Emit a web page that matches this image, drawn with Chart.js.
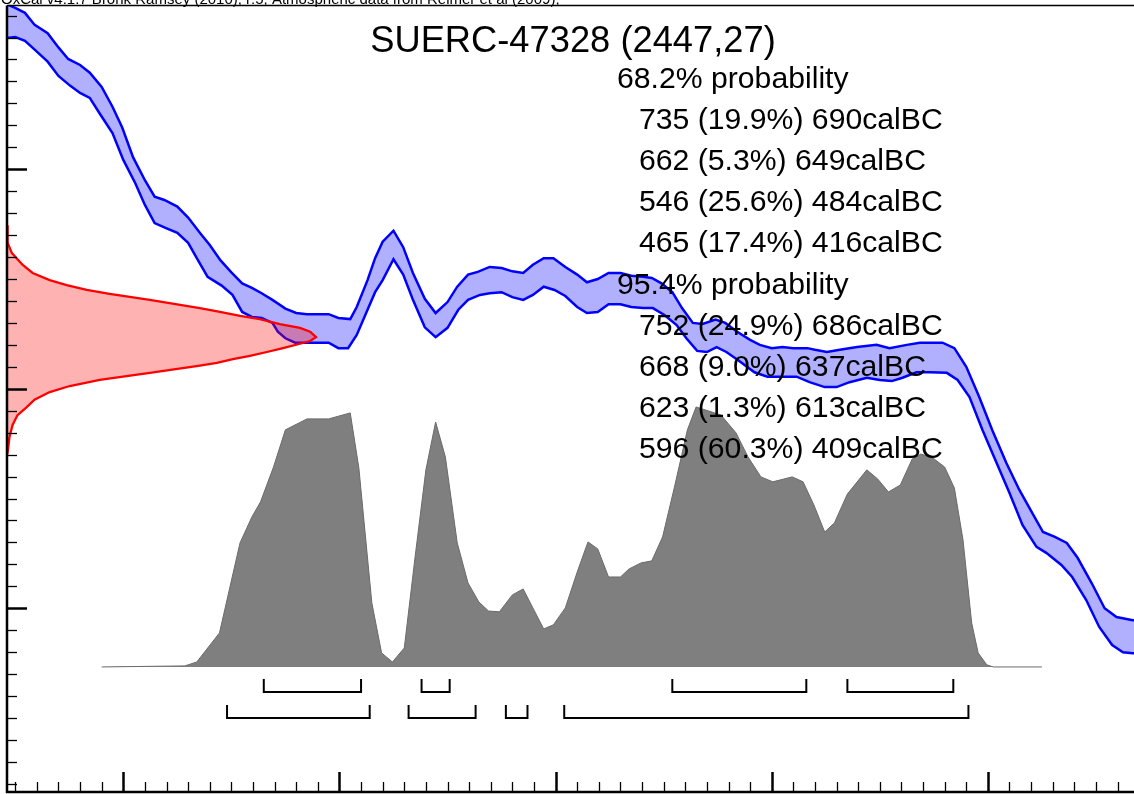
<!DOCTYPE html>
<html><head><meta charset="utf-8">
<script src="https://cdn.jsdelivr.net/npm/chart.js@4.4.1/dist/chart.umd.min.js"></script>
<style>html,body{margin:0;padding:0;background:#fff;overflow:hidden}</style>
</head><body><canvas id="c" width="1134" height="794"></canvas>
<script>
// ---- Calibration curve (IntCal band), calendar year (negative = BC) vs radiocarbon BP ----
const curveUpperYears = [-856,-850,-845.5,-841,-835,-830,-825.5,-820,-815.5,-810,-805,-800.5,-795.5,-790,-785.5,-781,-775,-770,-764.5,-760,-755,-750,-745,-740.5,-736,-731,-725,-720,-715,-705,-700.5,-695,-692,-687,-683.5,-680,-675,-670.5,-666,-660.5,-655.5,-650,-645.5,-640.5,-636,-630.5,-625,-620,-615,-610.5,-605.5,-601,-595.5,-590,-585.5,-580.5,-575.5,-570,-565,-559.5,-555.5,-551,-546,-541.5,-536.5,-532,-526,-521.5,-516,-510,-505.5,-500,-495,-490,-483.5,-480,-474.5,-468.5,-460.5,-451.5,-445.5,-437.5,-431.5,-425.5,-421,-415.5,-410,-404,-398,-391.5,-385.5,-379.5,-374.5,-369,-363.5,-358.5,-352,-346,-340.5,-333,-328];
const curveUpperBP = [2752,2747,2742.5,2731.5,2724,2711,2700.5,2695,2688,2675,2657,2638,2611,2590,2575,2572,2566,2556,2542,2531,2517,2506,2496,2492,2487,2481,2473,2469,2468,2468,2464.5,2463.5,2474.5,2499,2519,2534,2544,2529,2505.5,2482,2469,2479,2493,2504,2506.5,2511,2510,2507,2505.5,2513,2519,2519,2511,2504,2497,2500,2505.5,2505.5,2503,2502,2501,2496,2488,2473.5,2460,2459,2463,2460,2452,2444.5,2440,2437,2438,2437,2437,2435.5,2433.5,2435.5,2438,2440,2437,2440,2442,2442,2442,2437,2420,2392.5,2362.5,2332.5,2308,2287,2269.5,2265,2259.5,2246,2223,2200,2192,2189,2189];
const curveLowerYears = [-856,-850,-845.5,-841,-835,-830,-824.5,-820,-815.5,-811,-805,-800,-794.5,-790,-785.5,-780.5,-775,-770,-766,-761,-754.5,-749.5,-745,-740.5,-736,-731,-728.5,-725,-720.5,-715,-705,-700.5,-696,-692,-687,-683.5,-680,-675,-670.5,-666,-660.5,-655.5,-650,-645,-640.5,-635,-630.5,-625,-620,-615,-610.5,-605.5,-600.5,-595.5,-590,-585.5,-580.5,-575.5,-570,-565,-559.5,-555,-549.5,-544,-539.5,-534.5,-530,-525.5,-521,-515.5,-508,-502,-495,-488.5,-482.5,-475.5,-470,-464,-456,-450,-444.5,-439.5,-433,-427,-419,-414,-408.5,-402.5,-396,-390,-384,-377.5,-373,-366,-361,-354.5,-348.5,-342.5,-337.5,-333,-328];
const curveLowerBP = [2719,2720.5,2717,2709,2698,2685,2676,2669.5,2665,2651,2633,2608.5,2587.5,2567.5,2551,2546.5,2542,2533,2519,2502,2494,2485.5,2470,2465.5,2464.5,2460,2452,2446,2442,2442,2442,2437,2437,2449,2472,2488,2499,2518,2504,2481,2456,2447,2455.5,2472,2481,2485.5,2487,2488,2483.5,2481,2485.5,2493,2490,2484.5,2474.5,2469,2470,2477,2477,2474.5,2473.5,2473.5,2467,2458,2446,2434.5,2433.5,2438,2433.5,2426,2415,2411,2411,2411,2406,2401.5,2401.5,2406,2410,2408,2407,2410,2415,2415,2414.5,2408,2392.5,2362.5,2332.5,2305,2276,2256,2250.5,2239.5,2228.5,2207.5,2183,2166.5,2160,2159,2159];

// ---- Radiocarbon measurement distribution (2447 ± 27 BP), relative probability ----
const measBP   = [2549,2533,2524,2519,2513,2505.5,2499,2494.5,2490,2486.5,2481,2473.5,2470,2466.5,2463.5,2459,2455.5,2452,2447,2443.5,2441,2437,2433.5,2430,2427,2423.5,2421,2414.5,2408,2402.5,2397,2390,2383,2376,2367,2356,2342,2340];
const measProb = [0,0.002,0.015,0.031,0.05,0.083,0.138,0.193,0.258,0.332,0.462,0.624,0.689,0.754,0.818,0.883,0.948,0.981,1,0.981,0.948,0.893,0.841,0.786,0.731,0.679,0.624,0.462,0.3,0.203,0.138,0.089,0.063,0.034,0.018,0.008,0.002,0];

// ---- Calibrated date distribution, calendar year vs relative probability ----
const calYears = [-810,-771.5,-766,-755.5,-746,-740.5,-736.5,-730.5,-725,-715,-705,-695,-691,-685,-680.5,-675.5,-670,-665,-660,-655.5,-651,-645.5,-640.5,-635.5,-631,-626,-620,-615,-605.5,-601,-595.5,-590,-585,-580.5,-575.5,-570,-566,-560.5,-555.5,-550.5,-545,-539,-535,-523.5,-516.5,-511,-505,-499.5,-490.5,-485.5,-480.5,-475.5,-471,-465,-456,-451,-446,-440.5,-435,-431,-425.5,-420,-415.5,-411.5,-407.5,-404.5,-400.5,-397.5,-375];
const calProb  = [0,0.004,0.019,0.131,0.477,0.577,0.635,0.769,0.912,0.954,0.954,0.977,0.765,0.246,0.054,0.019,0.073,0.423,0.758,0.942,0.808,0.477,0.323,0.25,0.215,0.212,0.277,0.3,0.146,0.162,0.227,0.365,0.481,0.454,0.346,0.346,0.377,0.4,0.408,0.5,0.692,0.912,1.0,0.969,0.9,0.808,0.731,0.712,0.731,0.712,0.623,0.519,0.554,0.665,0.758,0.723,0.673,0.7,0.8,0.819,0.804,0.769,0.688,0.488,0.169,0.054,0.008,0,0];

// ---- Highest probability ranges (cal BC) ----
const range68From = [735, 662, 546, 465];
const range68To   = [690, 649, 484, 416];
const range68Pct  = ['19.9%', '5.3%', '25.6%', '17.4%'];
const range95From = [752, 668, 623, 596];
const range95To   = [686, 637, 613, 409];
const range95Pct  = ['24.9%', '9.0%', '1.3%', '60.3%'];

// ---- Texts and tick values ----
const headerText = 'OxCal v4.1.7 Bronk Ramsey (2010); r:5; Atmospheric data from Reimer et al (2009);';
const titleText = 'SUERC-47328 (2447,27)';
const xMinorStep = 10, xMajorStep = 100;
const yMinorStep = 20, yMajorStep = 200;

const FONT = "'Liberation Sans', Arial, Helvetica, sans-serif";

function pts(xs, ys) { return xs.map((x, i) => ({x: x, y: ys[i]})); }

const bracketLevels = {p68: {bar: -0.096, tip: -0.046}, p95: {bar: -0.196, tip: -0.146}};
function bracketSets(from, to, lvl) {
  return from.map((f, i) => ({
    data: [{x: -f, y: lvl.tip}, {x: -f, y: lvl.bar}, {x: -to[i], y: lvl.bar}, {x: -to[i], y: lvl.tip}],
    xAxisID: 'x', yAxisID: 'yp', borderColor: '#000', borderWidth: 2, fill: false,
    pointRadius: 0, order: 0, borderJoinStyle: 'miter', borderCapStyle: 'butt'
  }));
}

const datasets = [
  ...bracketSets(range68From, range68To, bracketLevels.p68),
  ...bracketSets(range95From, range95To, bracketLevels.p95),
  {
    data: measBP.map((b, i) => ({x: measProb[i], y: b})),
    indexAxis: 'y', xAxisID: 'xp', yAxisID: 'y',
    borderColor: '#ff0000', borderWidth: 2.3, backgroundColor: 'rgba(255,0,0,0.3)',
    fill: 'origin', pointRadius: 0, order: 1
  },
  {
    data: pts(curveUpperYears, curveUpperBP), xAxisID: 'x', yAxisID: 'y',
    borderColor: '#0000ff', borderWidth: 2.5, backgroundColor: 'rgba(0,0,255,0.31)',
    fill: '+1', pointRadius: 0, order: 3
  },
  {
    data: pts(curveLowerYears, curveLowerBP), xAxisID: 'x', yAxisID: 'y',
    borderColor: '#0000ff', borderWidth: 2.5, fill: false, pointRadius: 0, order: 2
  },
  {
    data: pts(calYears, calProb), xAxisID: 'x', yAxisID: 'yp',
    borderColor: '#6a6a6a', borderWidth: 1, backgroundColor: '#7f7f7f',
    fill: 'origin', pointRadius: 0, order: 5
  }
];

const frame = {
  id: 'frame',
  afterDatasetsDraw(chart) {
    const ctx = chart.ctx, a = chart.chartArea;
    const xs = chart.scales.x, ys = chart.scales.y;
    ctx.save();
    ctx.strokeStyle = '#000';
    ctx.lineWidth = 1.5;
    ctx.beginPath(); ctx.moveTo(a.left, a.top); ctx.lineTo(chart.width, a.top); ctx.stroke();
    ctx.lineWidth = 2.5;
    ctx.beginPath(); ctx.moveTo(a.left, a.top); ctx.lineTo(a.left, a.bottom); ctx.lineTo(chart.width, a.bottom); ctx.stroke();
    const x0 = Math.ceil(xs.min / xMinorStep) * xMinorStep;
    for (let v = x0; v <= xs.max; v += xMinorStep) {
      const px = Math.round(xs.getPixelForValue(v)) + 0.5;
      const major = v % xMajorStep === 0;
      ctx.lineWidth = major ? 2.5 : 1.3;
      ctx.beginPath(); ctx.moveTo(px, a.bottom); ctx.lineTo(px, a.bottom - (major ? 20 : 10)); ctx.stroke();
    }
    const y0 = Math.ceil(ys.min / yMinorStep) * yMinorStep;
    for (let v = y0; v <= ys.max; v += yMinorStep) {
      const py = Math.round(ys.getPixelForValue(v)) + 0.5;
      const major = v % yMajorStep === 0;
      ctx.lineWidth = major ? 2.5 : 1.3;
      ctx.beginPath(); ctx.moveTo(a.left, py); ctx.lineTo(a.left + (major ? 20 : 10), py); ctx.stroke();
    }
    ctx.fillStyle = '#000';
    ctx.textBaseline = 'alphabetic';
    ctx.textAlign = 'left';
    ctx.font = '15px ' + FONT;
    ctx.fillText(headerText, 1, 4);
    ctx.textAlign = 'center';
    ctx.font = '36.3px ' + FONT;
    ctx.fillText(titleText, 573, 52);
    ctx.textAlign = 'left';
    ctx.font = '30.2px ' + FONT;
    const lines = [];
    lines.push(['68.2% probability', 0]);
    range68From.forEach((f, i) => lines.push([f + ' (' + range68Pct[i] + ') ' + range68To[i] + 'calBC', 1]));
    lines.push(['95.4% probability', 0]);
    range95From.forEach((f, i) => lines.push([f + ' (' + range95Pct[i] + ') ' + range95To[i] + 'calBC', 1]));
    lines.forEach((l, i) => ctx.fillText(l[0], l[1] ? 639 : 617, 88 + i * 41.1));
    ctx.restore();
  }
};

new Chart(document.getElementById('c'), {
  type: 'line',
  data: {datasets: datasets},
  options: {
    responsive: false, animation: false, events: [],
    layout: {padding: {left: 7, top: 5.5, right: 0, bottom: 2}},
    elements: {line: {tension: 0}, point: {radius: 0}},
    plugins: {legend: {display: false}, tooltip: {enabled: false}, title: {display: false}},
    scales: {
      x:  {type: 'linear', min: -853.8, max: -332.4, display: false},
      y:  {type: 'linear', min: 2032.6, max: 2749.2, display: false},
      xp: {type: 'linear', min: 0, max: 3.647, display: false},
      yp: {type: 'linear', min: -0.481, max: 2.544, display: false}
    }
  },
  plugins: [frame]
});
</script></body></html>
